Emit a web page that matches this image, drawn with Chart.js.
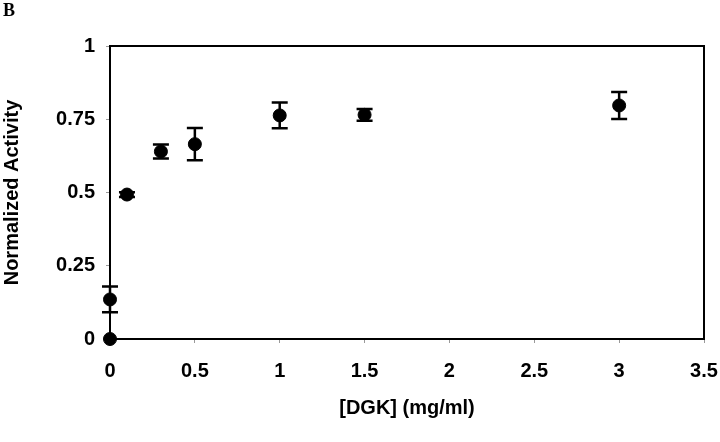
<!DOCTYPE html>
<html>
<head>
<meta charset="utf-8">
<script src="https://cdn.jsdelivr.net/npm/chart.js@4"></script>
<style>
  body { margin: 0; background: #fff; }
  #wrap { position: relative; width: 720px; height: 442px; }
  #panel { position: absolute; left: 3px; top: 0px; font: bold 18px "Liberation Serif", serif; }
</style>
</head>
<body>
<div id="wrap">
  <canvas id="chart" width="720" height="442"></canvas>
  <div id="panel">B</div>
</div>
<script>
// DGK concentration (mg/ml) and measured activity
const dgkConc = [0, 0, 0.1, 0.3, 0.5, 1, 1.5, 3];
const activity = [0, 0.135, 0.493, 0.64, 0.665, 0.763, 0.765, 0.797];
const activityErr = [0, 0.044, 0.008, 0.024, 0.055, 0.044, 0.02, 0.046];

const xTicks = [0, 0.5, 1, 1.5, 2, 2.5, 3, 3.5];
const yTicks = [0, 0.25, 0.5, 0.75, 1];

const tickFont = { family: 'Liberation Sans, Arial, sans-serif', size: 20, weight: 'bold' };

// error bars drawn with the chart's own scales
const errorBars = {
  id: 'errorBars',
  afterDatasetsDraw(chart) {
    const { ctx, scales: { x, y } } = chart;
    ctx.save();
    ctx.strokeStyle = '#000';
    ctx.lineWidth = 2.5;
    dgkConc.forEach((c, i) => {
      const e = activityErr[i];
      if (!e) return;
      const px = x.getPixelForValue(c);
      const top = y.getPixelForValue(activity[i] + e);
      const bot = y.getPixelForValue(activity[i] - e);
      ctx.beginPath();
      ctx.moveTo(px, top); ctx.lineTo(px, bot);
      ctx.moveTo(px - 8, top); ctx.lineTo(px + 8, top);
      ctx.moveTo(px - 8, bot); ctx.lineTo(px + 8, bot);
      ctx.stroke();
    });
    ctx.restore();
  }
};

// plot frame
const frame = {
  id: 'frame',
  beforeDatasetsDraw(chart) {
    const { ctx, chartArea: a } = chart;
    ctx.save();
    ctx.strokeStyle = '#000';
    ctx.lineWidth = 2;
    ctx.strokeRect(a.left, a.top, a.right - a.left, a.bottom - a.top);
    ctx.restore();
  }
};

const noPad = s => { s.paddingLeft = 0; s.paddingRight = 0; s.paddingTop = 0; s.paddingBottom = 0; };

new Chart(document.getElementById('chart'), {
  type: 'scatter',
  data: {
    datasets: [{
      data: dgkConc.map((c, i) => ({ x: c, y: activity[i] })),
      backgroundColor: '#000',
      borderColor: '#000',
      pointRadius: 6.5,
      pointHoverRadius: 6.5,
      clip: false
    }]
  },
  options: {
    responsive: false,
    animation: false,
    layout: { padding: { top: 46, right: 16, bottom: 18, left: 0 } },
    plugins: { legend: { display: false }, tooltip: { enabled: false } },
    scales: {
      x: {
        type: 'linear',
        min: 0, max: 3.5,
        afterBuildTicks: s => { s.ticks = xTicks.map(v => ({ value: v })); },
        afterFit: s => { s.height = 85; noPad(s); },
        ticks: { color: '#000', font: tickFont, padding: 16, maxRotation: 0, callback: v => String(v) },
        grid: { drawOnChartArea: false, tickLength: 4, color: '#999' },
        border: { display: false },
        title: {
          display: true,
          text: '[DGK] (mg/ml)',
          color: '#000',
          font: tickFont,
          padding: { top: 4, bottom: 4 }
        }
      },
      y: {
        min: 0, max: 1,
        afterBuildTicks: s => { s.ticks = yTicks.map(v => ({ value: v })); },
        afterFit: s => { s.width = 110; noPad(s); },
        ticks: { color: '#000', font: tickFont, padding: 11, callback: v => String(v) },
        grid: { drawOnChartArea: false, tickLength: 4, color: '#999' },
        border: { display: false },
        title: {
          display: true,
          text: 'Normalized Activity',
          color: '#000',
          font: tickFont,
          padding: { top: 0, bottom: 0 }
        }
      }
    }
  },
  plugins: [frame, errorBars]
});
</script>
</body>
</html>
